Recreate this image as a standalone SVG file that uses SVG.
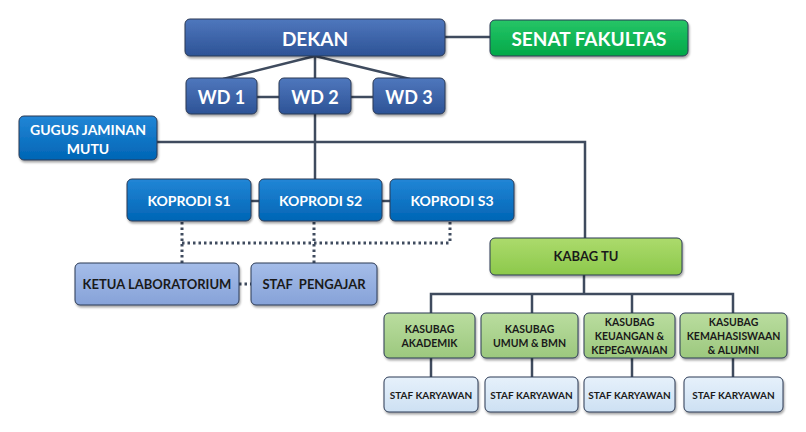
<svg xmlns="http://www.w3.org/2000/svg" width="806" height="432" viewBox="0 0 806 432">
<defs>
<linearGradient id="gDark" x1="0" y1="0" x2="0" y2="1"><stop offset="0" stop-color="#4f77bd"/><stop offset="1" stop-color="#2d5396"/></linearGradient>
<linearGradient id="gMid" x1="0" y1="0" x2="0" y2="1"><stop offset="0" stop-color="#2286d6"/><stop offset="1" stop-color="#0065b5"/></linearGradient>
<linearGradient id="gSenat" x1="0" y1="0" x2="0" y2="1"><stop offset="0" stop-color="#27c567"/><stop offset="1" stop-color="#00a848"/></linearGradient>
<linearGradient id="gKabag" x1="0" y1="0" x2="0" y2="1"><stop offset="0" stop-color="#acdb6c"/><stop offset="1" stop-color="#8cc84b"/></linearGradient>
<linearGradient id="gKasub" x1="0" y1="0" x2="0" y2="1"><stop offset="0" stop-color="#badd9f"/><stop offset="1" stop-color="#9cc87e"/></linearGradient>
<linearGradient id="gLab" x1="0" y1="0" x2="0" y2="1"><stop offset="0" stop-color="#a5bde9"/><stop offset="1" stop-color="#86a2d8"/></linearGradient>
<linearGradient id="gStaf" x1="0" y1="0" x2="0" y2="1"><stop offset="0" stop-color="#e6f1fb"/><stop offset="1" stop-color="#cde0f3"/></linearGradient>
<filter id="sh" x="-10%" y="-10%" width="130%" height="140%"><feDropShadow dx="1" dy="2" stdDeviation="1.2" flood-color="#000" flood-opacity="0.35"/></filter>
</defs>
<style>
.b{stroke:#2b3a55;stroke-width:1;filter:url(#sh)}
.t{font-family:Lato,"Open Sans","Liberation Sans",sans-serif;font-weight:bold;text-anchor:middle;dominant-baseline:central}
.w{fill:#ffffff}
.k{fill:#1a1a1a}
.ln{stroke:#3f4b5e;stroke-width:2.5;fill:none}
.dt{stroke:#3f4b5e;stroke-width:3;fill:none;stroke-dasharray:2.5 3}
</style>
<rect width="806" height="432" fill="#ffffff"/>
<g id="connectors">
<line class="ln" x1="445" y1="37" x2="490" y2="37"/>
<line class="ln" x1="315" y1="56" x2="223" y2="79"/>
<line class="ln" x1="315" y1="56" x2="410" y2="79"/>
<line class="ln" x1="315" y1="56" x2="315" y2="79"/>
<line class="ln" x1="257" y1="97" x2="279" y2="97"/>
<line class="ln" x1="351" y1="97" x2="373" y2="97"/>
<line class="ln" x1="315" y1="114" x2="315" y2="179"/>
<polyline class="ln" points="157,142 585,142 585,238"/>
<line class="ln" x1="251" y1="201" x2="259" y2="201"/>
<line class="ln" x1="382" y1="201" x2="390" y2="201"/>
<line class="dt" x1="182" y1="222" x2="182" y2="263"/>
<line class="dt" x1="182" y1="243" x2="450" y2="243"/>
<line class="dt" x1="450" y1="222" x2="450" y2="243"/>
<line class="dt" x1="314" y1="222" x2="314" y2="263"/>
<line class="dt" x1="239" y1="284" x2="251" y2="284"/>
<line class="ln" x1="584" y1="275" x2="584" y2="294"/>
<polyline class="ln" points="431,313 431,294 733,294 733,313"/>
<line class="ln" x1="532" y1="294" x2="532" y2="313"/>
<line class="ln" x1="632" y1="294" x2="632" y2="313"/>
<line class="ln" x1="431" y1="358" x2="431" y2="377"/>
<line class="ln" x1="532" y1="358" x2="532" y2="377"/>
<line class="ln" x1="632" y1="358" x2="632" y2="377"/>
<line class="ln" x1="733" y1="358" x2="733" y2="377"/>
</g>
<g id="dekan"><rect class="b" x="185" y="19" width="260" height="37" rx="5" fill="url(#gDark)"/><text class="t w" x="315" y="38" font-size="19">DEKAN</text></g>
<g id="senat"><rect class="b" x="490" y="20" width="198" height="36" rx="5" fill="url(#gSenat)"/><text class="t w" x="589" y="38" font-size="19">SENAT FAKULTAS</text></g>
<g id="wd1"><rect class="b" x="186" y="78" width="71" height="36" rx="5" fill="url(#gDark)"/><text class="t w" x="221.5" y="97" font-size="18">WD 1</text></g>
<g id="wd2"><rect class="b" x="279" y="78" width="72" height="36" rx="5" fill="url(#gDark)"/><text class="t w" x="315" y="97" font-size="18">WD 2</text></g>
<g id="wd3"><rect class="b" x="373" y="78" width="72" height="36" rx="5" fill="url(#gDark)"/><text class="t w" x="409" y="97" font-size="18">WD 3</text></g>
<g id="gugus"><rect class="b" x="19" y="116" width="138" height="44" rx="5" fill="url(#gMid)"/><text class="t w" font-size="14"><tspan x="88" y="129">GUGUS JAMINAN</tspan><tspan x="88" y="148">MUTU</tspan></text></g>
<g id="koprodi-s1"><rect class="b" x="127" y="179" width="124" height="42" rx="5" fill="url(#gMid)"/><text class="t w" x="189" y="200" font-size="14">KOPRODI S1</text></g>
<g id="koprodi-s2"><rect class="b" x="259" y="179" width="123" height="42" rx="5" fill="url(#gMid)"/><text class="t w" x="320.5" y="200" font-size="14">KOPRODI S2</text></g>
<g id="koprodi-s3"><rect class="b" x="390" y="179" width="124" height="42" rx="5" fill="url(#gMid)"/><text class="t w" x="452" y="200" font-size="14">KOPRODI S3</text></g>
<g id="ketua-lab"><rect class="b" x="75" y="263" width="164" height="42" rx="5" fill="url(#gLab)"/><text class="t k" x="157" y="284" font-size="13">KETUA LABORATORIUM</text></g>
<g id="staf-pengajar"><rect class="b" x="251" y="263" width="126" height="42" rx="5" fill="url(#gLab)"/><text class="t k" x="314" y="284" font-size="13" xml:space="preserve">STAF  PENGAJAR</text></g>
<g id="kabag-tu"><rect class="b" x="490" y="238" width="192" height="37" rx="5" fill="url(#gKabag)"/><text class="t k" x="586" y="256" font-size="13">KABAG TU</text></g>
<g id="kasubag-akademik"><rect class="b" x="384" y="313" width="91" height="45" rx="5" fill="url(#gKasub)"/><text class="t k" font-size="10.5"><tspan x="429.5" y="329">KASUBAG</tspan><tspan x="429.5" y="343">AKADEMIK</tspan></text></g>
<g id="kasubag-umum"><rect class="b" x="481" y="313" width="97" height="45" rx="5" fill="url(#gKasub)"/><text class="t k" font-size="10.5"><tspan x="529.5" y="329">KASUBAG</tspan><tspan x="529.5" y="343">UMUM &amp; BMN</tspan></text></g>
<g id="kasubag-keuangan"><rect class="b" x="584" y="313" width="91" height="45" rx="5" fill="url(#gKasub)"/><text class="t k" font-size="10.5"><tspan x="629.5" y="322">KASUBAG</tspan><tspan x="629.5" y="336">KEUANGAN &amp;</tspan><tspan x="629.5" y="350">KEPEGAWAIAN</tspan></text></g>
<g id="kasubag-kemahasiswaan"><rect class="b" x="680" y="313" width="107" height="45" rx="5" fill="url(#gKasub)"/><text class="t k" font-size="10.5"><tspan x="733.5" y="322">KASUBAG</tspan><tspan x="733.5" y="336">KEMAHASISWAAN</tspan><tspan x="733.5" y="350">&amp; ALUMNI</tspan></text></g>
<g id="staf-1"><rect class="b" x="384" y="377" width="94" height="35" rx="5" fill="url(#gStaf)"/><text class="t k" x="431" y="394.5" font-size="10">STAF KARYAWAN</text></g>
<g id="staf-2"><rect class="b" x="485" y="377" width="93" height="35" rx="5" fill="url(#gStaf)"/><text class="t k" x="531.5" y="394.5" font-size="10">STAF KARYAWAN</text></g>
<g id="staf-3"><rect class="b" x="584" y="377" width="91" height="35" rx="5" fill="url(#gStaf)"/><text class="t k" x="629.5" y="394.5" font-size="10">STAF KARYAWAN</text></g>
<g id="staf-4"><rect class="b" x="684" y="377" width="99" height="35" rx="5" fill="url(#gStaf)"/><text class="t k" x="733.5" y="394.5" font-size="10">STAF KARYAWAN</text></g>
</svg>
